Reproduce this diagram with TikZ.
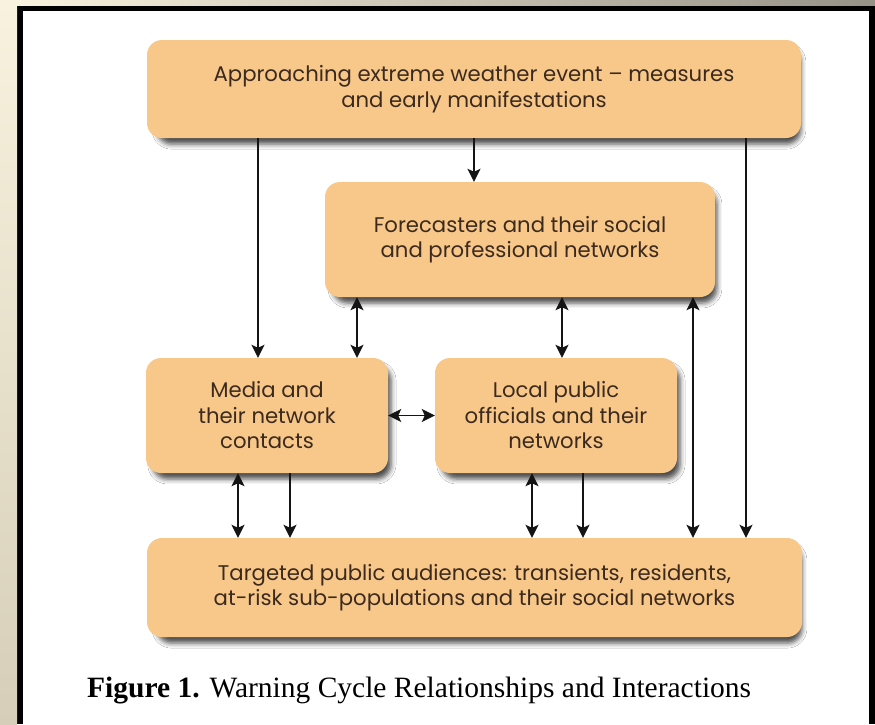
\documentclass[tikz,border=0pt]{standalone}
\usepackage{fontspec}
\setmainfont{Liberation Serif}
\newfontfamily\boxfont[Ligatures=TeX]{Poppins}
\usetikzlibrary{arrows.meta,shadows.blur}

\definecolor{boxfill}{RGB}{247,200,138}
\definecolor{boxtext}{RGB}{60,42,30}
\definecolor{edgebeige}{RGB}{248,242,222}
\definecolor{edgetan}{RGB}{214,206,184}
\definecolor{edgegray}{RGB}{150,146,134}
\definecolor{arrowink}{RGB}{20,20,20}

\tikzset{
  box/.style={
    rectangle, rounded corners=15pt, fill=boxfill, inner sep=0pt,
    text=boxtext, align=center,
    font=\boxfont\fontsize{21.2}{25.5}\selectfont,
    blur shadow={shadow xshift=5pt, shadow yshift=-7pt, shadow scale=0.985,
                 shadow blur radius=5pt, shadow opacity=70}
  },
  link/.style={draw=arrowink, line width=1.8pt, -{Stealth[length=13pt,width=13pt,inset=3pt]}},
  twoway/.style={draw=arrowink, line width=1.8pt,
    {Stealth[length=13pt,width=13pt,inset=3pt]}-{Stealth[length=13pt,width=13pt,inset=3pt]}}
}

\begin{document}
\begin{tikzpicture}[x=1pt,y=-1pt]
\useasboundingbox (0,0) rectangle (875,724);

% page frame
\fill[black] (0,0) rectangle (875,724);
\shade[top color=edgebeige, bottom color=edgetan] (0,0) rectangle (17,724);
\shade[left color=edgebeige, right color=edgegray] (17,0) rectangle (875,5);
\fill[white] (23,11) rectangle (869,724);

% boxes
\node[box, minimum width=654pt, minimum height=98pt] (top) at (474,89)
  {Approaching extreme weather event – measures\\and early manifestations};
\node[box, minimum width=390pt, minimum height=115pt] (fore) at (520,239.5)
  {Forecasters and their social\\and professional networks};
\node[box, minimum width=242pt, minimum height=115pt] (media) at (267,415.5)
  {Media and\\their network\\contacts};
\node[box, minimum width=242pt, minimum height=115pt] (local) at (556,415.5)
  {Local public\\officials and their\\networks};
\node[box, minimum width=655pt, minimum height=99pt] (aud) at (474.5,587.5)
  {Targeted public audiences: transients, residents,\\at-risk sub-populations and their social networks};

% columns where the connectors run
\coordinate (c238) at (238,0);
\coordinate (c258) at (258,0);
\coordinate (c290) at (290,0);
\coordinate (c357) at (357,0);
\coordinate (c474) at (474,0);
\coordinate (c532) at (532,0);
\coordinate (c562) at (562,0);
\coordinate (c583) at (583,0);
\coordinate (c693) at (693,0);
\coordinate (c746) at (746,0);

% connectors
\draw[link] (top.south -| c258) -- (media.north -| c258);
\draw[link] (top.south -| c474) -- (fore.north -| c474);
\draw[link] (top.south -| c746) -- (aud.north -| c746);
\draw[twoway] (fore.south -| c357) -- (media.north -| c357);
\draw[twoway] (fore.south -| c562) -- (local.north -| c562);
\draw[twoway] (fore.south -| c693) -- (aud.north -| c693);
\draw[twoway] (media.east) -- (local.west);
\draw[twoway] (media.south -| c238) -- (aud.north -| c238);
\draw[link] (media.south -| c290) -- (aud.north -| c290);
\draw[twoway] (local.south -| c532) -- (aud.north -| c532);
\draw[link] (local.south -| c583) -- (aud.north -| c583);

% caption
\node[anchor=base west, inner sep=0pt, font=\fontsize{29.5}{34}\selectfont] (cap) at (87,697)
  {\textbf{Figure 1.} Warning Cycle Relationships and Interactions};
\end{tikzpicture}
\end{document}
